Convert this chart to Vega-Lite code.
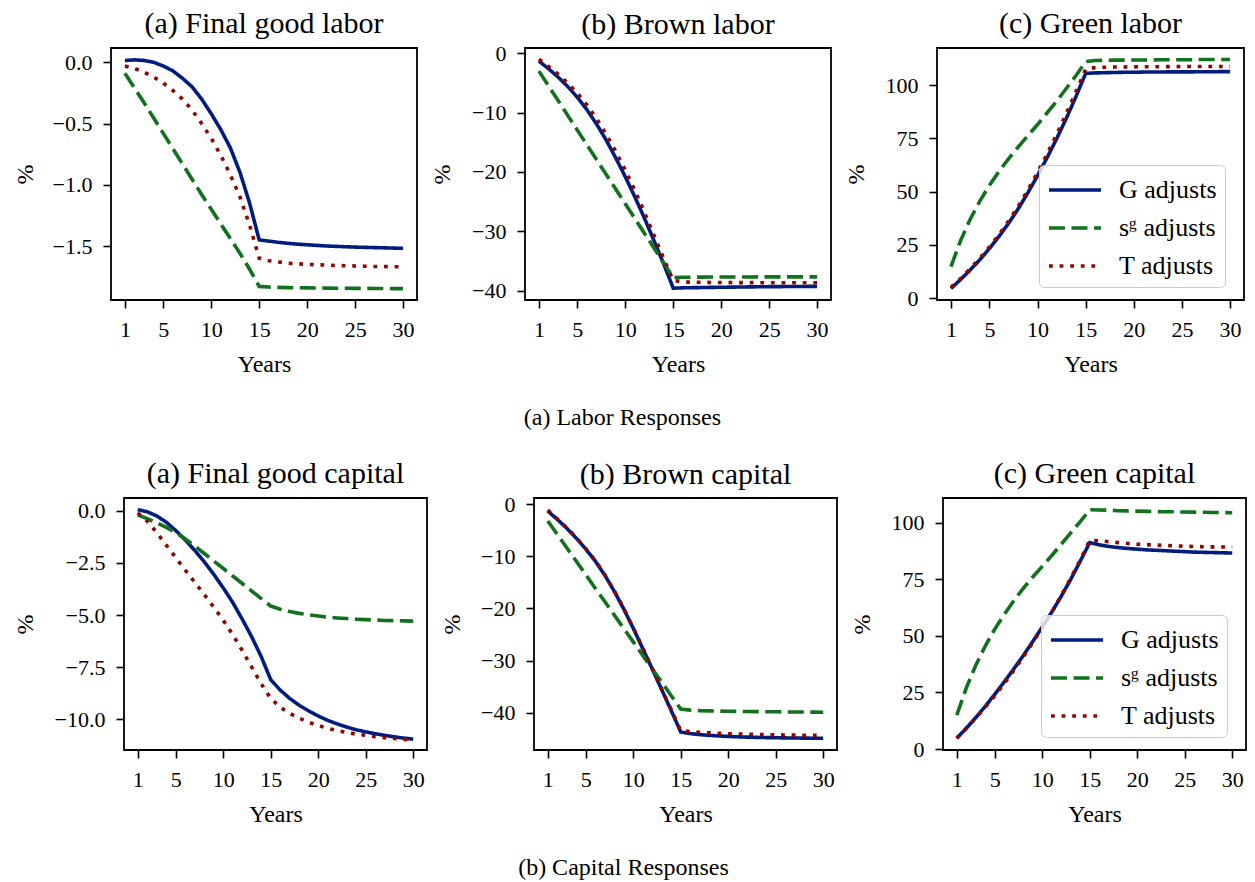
{
"$schema": "https://vega.github.io/schema/vega-lite/v6.json",
"background": "white",
"padding": {"left": 0, "top": 8, "right": 0, "bottom": 0},
"datasets": {
"p1": [
{"t":1,"s":"G adjusts","v":0.015},{"t":2,"s":"G adjusts","v":0.02},{"t":3,"s":"G adjusts","v":0.015},{"t":4,"s":"G adjusts","v":0.0},{"t":5,"s":"G adjusts","v":-0.03},{"t":6,"s":"G adjusts","v":-0.07},{"t":7,"s":"G adjusts","v":-0.13},{"t":8,"s":"G adjusts","v":-0.2},{"t":9,"s":"G adjusts","v":-0.3},{"t":10,"s":"G adjusts","v":-0.42},{"t":11,"s":"G adjusts","v":-0.55},{"t":12,"s":"G adjusts","v":-0.7},{"t":13,"s":"G adjusts","v":-0.9},{"t":14,"s":"G adjusts","v":-1.15},{"t":15,"s":"G adjusts","v":-1.45},{"t":16,"s":"G adjusts","v":-1.46},{"t":17,"s":"G adjusts","v":-1.47},{"t":18,"s":"G adjusts","v":-1.478},{"t":19,"s":"G adjusts","v":-1.485},{"t":20,"s":"G adjusts","v":-1.49},{"t":21,"s":"G adjusts","v":-1.495},{"t":22,"s":"G adjusts","v":-1.5},{"t":23,"s":"G adjusts","v":-1.503},{"t":24,"s":"G adjusts","v":-1.506},{"t":25,"s":"G adjusts","v":-1.509},{"t":26,"s":"G adjusts","v":-1.511},{"t":27,"s":"G adjusts","v":-1.513},{"t":28,"s":"G adjusts","v":-1.515},{"t":29,"s":"G adjusts","v":-1.517},{"t":30,"s":"G adjusts","v":-1.519},
{"t":1,"s":"sᵍ adjusts","v":-0.09},{"t":2,"s":"sᵍ adjusts","v":-0.21},{"t":3,"s":"sᵍ adjusts","v":-0.33},{"t":4,"s":"sᵍ adjusts","v":-0.455},{"t":5,"s":"sᵍ adjusts","v":-0.58},{"t":6,"s":"sᵍ adjusts","v":-0.705},{"t":7,"s":"sᵍ adjusts","v":-0.83},{"t":8,"s":"sᵍ adjusts","v":-0.955},{"t":9,"s":"sᵍ adjusts","v":-1.08},{"t":10,"s":"sᵍ adjusts","v":-1.2},{"t":11,"s":"sᵍ adjusts","v":-1.32},{"t":12,"s":"sᵍ adjusts","v":-1.44},{"t":13,"s":"sᵍ adjusts","v":-1.56},{"t":14,"s":"sᵍ adjusts","v":-1.69},{"t":15,"s":"sᵍ adjusts","v":-1.83},{"t":16,"s":"sᵍ adjusts","v":-1.835},{"t":17,"s":"sᵍ adjusts","v":-1.838},{"t":18,"s":"sᵍ adjusts","v":-1.84},{"t":19,"s":"sᵍ adjusts","v":-1.841},{"t":20,"s":"sᵍ adjusts","v":-1.842},{"t":21,"s":"sᵍ adjusts","v":-1.843},{"t":22,"s":"sᵍ adjusts","v":-1.844},{"t":23,"s":"sᵍ adjusts","v":-1.845},{"t":24,"s":"sᵍ adjusts","v":-1.845},{"t":25,"s":"sᵍ adjusts","v":-1.846},{"t":26,"s":"sᵍ adjusts","v":-1.846},{"t":27,"s":"sᵍ adjusts","v":-1.847},{"t":28,"s":"sᵍ adjusts","v":-1.847},{"t":29,"s":"sᵍ adjusts","v":-1.848},{"t":30,"s":"sᵍ adjusts","v":-1.848},
{"t":1,"s":"T adjusts","v":-0.03},{"t":2,"s":"T adjusts","v":-0.05},{"t":3,"s":"T adjusts","v":-0.08},{"t":4,"s":"T adjusts","v":-0.12},{"t":5,"s":"T adjusts","v":-0.17},{"t":6,"s":"T adjusts","v":-0.23},{"t":7,"s":"T adjusts","v":-0.3},{"t":8,"s":"T adjusts","v":-0.39},{"t":9,"s":"T adjusts","v":-0.5},{"t":10,"s":"T adjusts","v":-0.62},{"t":11,"s":"T adjusts","v":-0.76},{"t":12,"s":"T adjusts","v":-0.92},{"t":13,"s":"T adjusts","v":-1.1},{"t":14,"s":"T adjusts","v":-1.33},{"t":15,"s":"T adjusts","v":-1.6},{"t":16,"s":"T adjusts","v":-1.62},{"t":17,"s":"T adjusts","v":-1.63},{"t":18,"s":"T adjusts","v":-1.64},{"t":19,"s":"T adjusts","v":-1.645},{"t":20,"s":"T adjusts","v":-1.65},{"t":21,"s":"T adjusts","v":-1.653},{"t":22,"s":"T adjusts","v":-1.656},{"t":23,"s":"T adjusts","v":-1.659},{"t":24,"s":"T adjusts","v":-1.661},{"t":25,"s":"T adjusts","v":-1.663},{"t":26,"s":"T adjusts","v":-1.665},{"t":27,"s":"T adjusts","v":-1.667},{"t":28,"s":"T adjusts","v":-1.668},{"t":29,"s":"T adjusts","v":-1.669},{"t":30,"s":"T adjusts","v":-1.67}
],
"p2": [
{"t":1,"s":"G adjusts","v":-1.3},{"t":2,"s":"G adjusts","v":-2.6},{"t":3,"s":"G adjusts","v":-4.0},{"t":4,"s":"G adjusts","v":-5.6},{"t":5,"s":"G adjusts","v":-7.4},{"t":6,"s":"G adjusts","v":-9.5},{"t":7,"s":"G adjusts","v":-11.9},{"t":8,"s":"G adjusts","v":-14.6},{"t":9,"s":"G adjusts","v":-17.6},{"t":10,"s":"G adjusts","v":-20.8},{"t":11,"s":"G adjusts","v":-24.2},{"t":12,"s":"G adjusts","v":-27.8},{"t":13,"s":"G adjusts","v":-31.6},{"t":14,"s":"G adjusts","v":-35.5},{"t":15,"s":"G adjusts","v":-39.6},{"t":16,"s":"G adjusts","v":-39.55},{"t":17,"s":"G adjusts","v":-39.52},{"t":18,"s":"G adjusts","v":-39.5},{"t":19,"s":"G adjusts","v":-39.47},{"t":20,"s":"G adjusts","v":-39.45},{"t":21,"s":"G adjusts","v":-39.43},{"t":22,"s":"G adjusts","v":-39.41},{"t":23,"s":"G adjusts","v":-39.39},{"t":24,"s":"G adjusts","v":-39.37},{"t":25,"s":"G adjusts","v":-39.35},{"t":26,"s":"G adjusts","v":-39.34},{"t":27,"s":"G adjusts","v":-39.33},{"t":28,"s":"G adjusts","v":-39.32},{"t":29,"s":"G adjusts","v":-39.31},{"t":30,"s":"G adjusts","v":-39.3},
{"t":1,"s":"sᵍ adjusts","v":-3.0},{"t":2,"s":"sᵍ adjusts","v":-5.49},{"t":3,"s":"sᵍ adjusts","v":-7.97},{"t":4,"s":"sᵍ adjusts","v":-10.46},{"t":5,"s":"sᵍ adjusts","v":-12.94},{"t":6,"s":"sᵍ adjusts","v":-15.43},{"t":7,"s":"sᵍ adjusts","v":-17.92},{"t":8,"s":"sᵍ adjusts","v":-20.4},{"t":9,"s":"sᵍ adjusts","v":-22.89},{"t":10,"s":"sᵍ adjusts","v":-25.37},{"t":11,"s":"sᵍ adjusts","v":-27.86},{"t":12,"s":"sᵍ adjusts","v":-30.35},{"t":13,"s":"sᵍ adjusts","v":-32.83},{"t":14,"s":"sᵍ adjusts","v":-35.32},{"t":15,"s":"sᵍ adjusts","v":-37.8},{"t":16,"s":"sᵍ adjusts","v":-37.77},{"t":17,"s":"sᵍ adjusts","v":-37.75},{"t":18,"s":"sᵍ adjusts","v":-37.74},{"t":19,"s":"sᵍ adjusts","v":-37.73},{"t":20,"s":"sᵍ adjusts","v":-37.72},{"t":21,"s":"sᵍ adjusts","v":-37.72},{"t":22,"s":"sᵍ adjusts","v":-37.71},{"t":23,"s":"sᵍ adjusts","v":-37.71},{"t":24,"s":"sᵍ adjusts","v":-37.7},{"t":25,"s":"sᵍ adjusts","v":-37.7},{"t":26,"s":"sᵍ adjusts","v":-37.7},{"t":27,"s":"sᵍ adjusts","v":-37.7},{"t":28,"s":"sᵍ adjusts","v":-37.7},{"t":29,"s":"sᵍ adjusts","v":-37.7},{"t":30,"s":"sᵍ adjusts","v":-37.7},
{"t":1,"s":"T adjusts","v":-1.0},{"t":2,"s":"T adjusts","v":-2.2},{"t":3,"s":"T adjusts","v":-3.5},{"t":4,"s":"T adjusts","v":-5.0},{"t":5,"s":"T adjusts","v":-6.7},{"t":6,"s":"T adjusts","v":-8.7},{"t":7,"s":"T adjusts","v":-11.0},{"t":8,"s":"T adjusts","v":-13.6},{"t":9,"s":"T adjusts","v":-16.5},{"t":10,"s":"T adjusts","v":-19.7},{"t":11,"s":"T adjusts","v":-23.1},{"t":12,"s":"T adjusts","v":-26.8},{"t":13,"s":"T adjusts","v":-30.7},{"t":14,"s":"T adjusts","v":-34.6},{"t":15,"s":"T adjusts","v":-38.3},{"t":16,"s":"T adjusts","v":-38.55},{"t":17,"s":"T adjusts","v":-38.6},{"t":18,"s":"T adjusts","v":-38.62},{"t":19,"s":"T adjusts","v":-38.64},{"t":20,"s":"T adjusts","v":-38.65},{"t":21,"s":"T adjusts","v":-38.66},{"t":22,"s":"T adjusts","v":-38.67},{"t":23,"s":"T adjusts","v":-38.67},{"t":24,"s":"T adjusts","v":-38.68},{"t":25,"s":"T adjusts","v":-38.68},{"t":26,"s":"T adjusts","v":-38.69},{"t":27,"s":"T adjusts","v":-38.69},{"t":28,"s":"T adjusts","v":-38.7},{"t":29,"s":"T adjusts","v":-38.7},{"t":30,"s":"T adjusts","v":-38.7}
],
"p3": [
{"t":1,"s":"G adjusts","v":4.5},{"t":2,"s":"G adjusts","v":8.7},{"t":3,"s":"G adjusts","v":13.2},{"t":4,"s":"G adjusts","v":18.0},{"t":5,"s":"G adjusts","v":23.3},{"t":6,"s":"G adjusts","v":29.0},{"t":7,"s":"G adjusts","v":35.2},{"t":8,"s":"G adjusts","v":42.0},{"t":9,"s":"G adjusts","v":49.5},{"t":10,"s":"G adjusts","v":57.5},{"t":11,"s":"G adjusts","v":66.0},{"t":12,"s":"G adjusts","v":75.0},{"t":13,"s":"G adjusts","v":84.5},{"t":14,"s":"G adjusts","v":94.7},{"t":15,"s":"G adjusts","v":105.5},{"t":16,"s":"G adjusts","v":105.7},{"t":17,"s":"G adjusts","v":105.8},{"t":18,"s":"G adjusts","v":105.9},{"t":19,"s":"G adjusts","v":106.0},{"t":20,"s":"G adjusts","v":106.0},{"t":21,"s":"G adjusts","v":106.1},{"t":22,"s":"G adjusts","v":106.1},{"t":23,"s":"G adjusts","v":106.15},{"t":24,"s":"G adjusts","v":106.2},{"t":25,"s":"G adjusts","v":106.2},{"t":26,"s":"G adjusts","v":106.2},{"t":27,"s":"G adjusts","v":106.25},{"t":28,"s":"G adjusts","v":106.25},{"t":29,"s":"G adjusts","v":106.3},{"t":30,"s":"G adjusts","v":106.3},
{"t":1,"s":"sᵍ adjusts","v":14.8},{"t":2,"s":"sᵍ adjusts","v":27.0},{"t":3,"s":"sᵍ adjusts","v":37.0},{"t":4,"s":"sᵍ adjusts","v":45.5},{"t":5,"s":"sᵍ adjusts","v":53.0},{"t":6,"s":"sᵍ adjusts","v":59.5},{"t":7,"s":"sᵍ adjusts","v":65.5},{"t":8,"s":"sᵍ adjusts","v":71.0},{"t":9,"s":"sᵍ adjusts","v":76.3},{"t":10,"s":"sᵍ adjusts","v":81.5},{"t":11,"s":"sᵍ adjusts","v":87.0},{"t":12,"s":"sᵍ adjusts","v":92.5},{"t":13,"s":"sᵍ adjusts","v":98.5},{"t":14,"s":"sᵍ adjusts","v":104.5},{"t":15,"s":"sᵍ adjusts","v":111.0},{"t":16,"s":"sᵍ adjusts","v":111.5},{"t":17,"s":"sᵍ adjusts","v":111.6},{"t":18,"s":"sᵍ adjusts","v":111.7},{"t":19,"s":"sᵍ adjusts","v":111.7},{"t":20,"s":"sᵍ adjusts","v":111.8},{"t":21,"s":"sᵍ adjusts","v":111.8},{"t":22,"s":"sᵍ adjusts","v":111.8},{"t":23,"s":"sᵍ adjusts","v":111.9},{"t":24,"s":"sᵍ adjusts","v":111.9},{"t":25,"s":"sᵍ adjusts","v":111.9},{"t":26,"s":"sᵍ adjusts","v":111.9},{"t":27,"s":"sᵍ adjusts","v":112.0},{"t":28,"s":"sᵍ adjusts","v":112.0},{"t":29,"s":"sᵍ adjusts","v":112.0},{"t":30,"s":"sᵍ adjusts","v":112.0},
{"t":1,"s":"T adjusts","v":5.0},{"t":2,"s":"T adjusts","v":9.2},{"t":3,"s":"T adjusts","v":13.8},{"t":4,"s":"T adjusts","v":18.7},{"t":5,"s":"T adjusts","v":24.0},{"t":6,"s":"T adjusts","v":29.8},{"t":7,"s":"T adjusts","v":36.2},{"t":8,"s":"T adjusts","v":43.2},{"t":9,"s":"T adjusts","v":50.8},{"t":10,"s":"T adjusts","v":59.0},{"t":11,"s":"T adjusts","v":67.7},{"t":12,"s":"T adjusts","v":77.0},{"t":13,"s":"T adjusts","v":86.8},{"t":14,"s":"T adjusts","v":97.0},{"t":15,"s":"T adjusts","v":107.5},{"t":16,"s":"T adjusts","v":108.2},{"t":17,"s":"T adjusts","v":108.35},{"t":18,"s":"T adjusts","v":108.45},{"t":19,"s":"T adjusts","v":108.5},{"t":20,"s":"T adjusts","v":108.55},{"t":21,"s":"T adjusts","v":108.6},{"t":22,"s":"T adjusts","v":108.6},{"t":23,"s":"T adjusts","v":108.65},{"t":24,"s":"T adjusts","v":108.65},{"t":25,"s":"T adjusts","v":108.7},{"t":26,"s":"T adjusts","v":108.7},{"t":27,"s":"T adjusts","v":108.7},{"t":28,"s":"T adjusts","v":108.7},{"t":29,"s":"T adjusts","v":108.7},{"t":30,"s":"T adjusts","v":108.7}
],
"p4": [
{"t":1,"s":"G adjusts","v":0.05},{"t":2,"s":"G adjusts","v":-0.05},{"t":3,"s":"G adjusts","v":-0.25},{"t":4,"s":"G adjusts","v":-0.55},{"t":5,"s":"G adjusts","v":-0.95},{"t":6,"s":"G adjusts","v":-1.4},{"t":7,"s":"G adjusts","v":-1.9},{"t":8,"s":"G adjusts","v":-2.45},{"t":9,"s":"G adjusts","v":-3.05},{"t":10,"s":"G adjusts","v":-3.7},{"t":11,"s":"G adjusts","v":-4.4},{"t":12,"s":"G adjusts","v":-5.2},{"t":13,"s":"G adjusts","v":-6.05},{"t":14,"s":"G adjusts","v":-7.0},{"t":15,"s":"G adjusts","v":-8.1},{"t":16,"s":"G adjusts","v":-8.6},{"t":17,"s":"G adjusts","v":-9.0},{"t":18,"s":"G adjusts","v":-9.33},{"t":19,"s":"G adjusts","v":-9.6},{"t":20,"s":"G adjusts","v":-9.84},{"t":21,"s":"G adjusts","v":-10.05},{"t":22,"s":"G adjusts","v":-10.22},{"t":23,"s":"G adjusts","v":-10.37},{"t":24,"s":"G adjusts","v":-10.5},{"t":25,"s":"G adjusts","v":-10.6},{"t":26,"s":"G adjusts","v":-10.69},{"t":27,"s":"G adjusts","v":-10.77},{"t":28,"s":"G adjusts","v":-10.84},{"t":29,"s":"G adjusts","v":-10.9},{"t":30,"s":"G adjusts","v":-10.95},
{"t":1,"s":"sᵍ adjusts","v":-0.2},{"t":2,"s":"sᵍ adjusts","v":-0.38},{"t":3,"s":"sᵍ adjusts","v":-0.58},{"t":4,"s":"sᵍ adjusts","v":-0.8},{"t":5,"s":"sᵍ adjusts","v":-1.05},{"t":6,"s":"sᵍ adjusts","v":-1.35},{"t":7,"s":"sᵍ adjusts","v":-1.69},{"t":8,"s":"sᵍ adjusts","v":-2.05},{"t":9,"s":"sᵍ adjusts","v":-2.41},{"t":10,"s":"sᵍ adjusts","v":-2.77},{"t":11,"s":"sᵍ adjusts","v":-3.13},{"t":12,"s":"sᵍ adjusts","v":-3.49},{"t":13,"s":"sᵍ adjusts","v":-3.85},{"t":14,"s":"sᵍ adjusts","v":-4.21},{"t":15,"s":"sᵍ adjusts","v":-4.57},{"t":16,"s":"sᵍ adjusts","v":-4.72},{"t":17,"s":"sᵍ adjusts","v":-4.83},{"t":18,"s":"sᵍ adjusts","v":-4.92},{"t":19,"s":"sᵍ adjusts","v":-4.99},{"t":20,"s":"sᵍ adjusts","v":-5.05},{"t":21,"s":"sᵍ adjusts","v":-5.1},{"t":22,"s":"sᵍ adjusts","v":-5.14},{"t":23,"s":"sᵍ adjusts","v":-5.17},{"t":24,"s":"sᵍ adjusts","v":-5.2},{"t":25,"s":"sᵍ adjusts","v":-5.22},{"t":26,"s":"sᵍ adjusts","v":-5.24},{"t":27,"s":"sᵍ adjusts","v":-5.26},{"t":28,"s":"sᵍ adjusts","v":-5.27},{"t":29,"s":"sᵍ adjusts","v":-5.28},{"t":30,"s":"sᵍ adjusts","v":-5.29},
{"t":1,"s":"T adjusts","v":-0.1},{"t":2,"s":"T adjusts","v":-0.5},{"t":3,"s":"T adjusts","v":-1.05},{"t":4,"s":"T adjusts","v":-1.65},{"t":5,"s":"T adjusts","v":-2.25},{"t":6,"s":"T adjusts","v":-2.85},{"t":7,"s":"T adjusts","v":-3.43},{"t":8,"s":"T adjusts","v":-4.02},{"t":9,"s":"T adjusts","v":-4.62},{"t":10,"s":"T adjusts","v":-5.25},{"t":11,"s":"T adjusts","v":-5.95},{"t":12,"s":"T adjusts","v":-6.7},{"t":13,"s":"T adjusts","v":-7.5},{"t":14,"s":"T adjusts","v":-8.3},{"t":15,"s":"T adjusts","v":-9.0},{"t":16,"s":"T adjusts","v":-9.42},{"t":17,"s":"T adjusts","v":-9.72},{"t":18,"s":"T adjusts","v":-9.95},{"t":19,"s":"T adjusts","v":-10.14},{"t":20,"s":"T adjusts","v":-10.3},{"t":21,"s":"T adjusts","v":-10.43},{"t":22,"s":"T adjusts","v":-10.54},{"t":23,"s":"T adjusts","v":-10.63},{"t":24,"s":"T adjusts","v":-10.71},{"t":25,"s":"T adjusts","v":-10.77},{"t":26,"s":"T adjusts","v":-10.83},{"t":27,"s":"T adjusts","v":-10.88},{"t":28,"s":"T adjusts","v":-10.92},{"t":29,"s":"T adjusts","v":-10.96},{"t":30,"s":"T adjusts","v":-10.99}
],
"p5": [
{"t":1,"s":"G adjusts","v":-1.3},{"t":2,"s":"G adjusts","v":-2.9},{"t":3,"s":"G adjusts","v":-4.6},{"t":4,"s":"G adjusts","v":-6.5},{"t":5,"s":"G adjusts","v":-8.6},{"t":6,"s":"G adjusts","v":-10.9},{"t":7,"s":"G adjusts","v":-13.6},{"t":8,"s":"G adjusts","v":-16.7},{"t":9,"s":"G adjusts","v":-20.1},{"t":10,"s":"G adjusts","v":-23.8},{"t":11,"s":"G adjusts","v":-27.7},{"t":12,"s":"G adjusts","v":-31.6},{"t":13,"s":"G adjusts","v":-35.6},{"t":14,"s":"G adjusts","v":-39.6},{"t":15,"s":"G adjusts","v":-43.7},{"t":16,"s":"G adjusts","v":-44.0},{"t":17,"s":"G adjusts","v":-44.2},{"t":18,"s":"G adjusts","v":-44.35},{"t":19,"s":"G adjusts","v":-44.45},{"t":20,"s":"G adjusts","v":-44.55},{"t":21,"s":"G adjusts","v":-44.62},{"t":22,"s":"G adjusts","v":-44.68},{"t":23,"s":"G adjusts","v":-44.73},{"t":24,"s":"G adjusts","v":-44.77},{"t":25,"s":"G adjusts","v":-44.8},{"t":26,"s":"G adjusts","v":-44.83},{"t":27,"s":"G adjusts","v":-44.85},{"t":28,"s":"G adjusts","v":-44.87},{"t":29,"s":"G adjusts","v":-44.89},{"t":30,"s":"G adjusts","v":-44.9},
{"t":1,"s":"sᵍ adjusts","v":-3.2},{"t":2,"s":"sᵍ adjusts","v":-5.78},{"t":3,"s":"sᵍ adjusts","v":-8.36},{"t":4,"s":"sᵍ adjusts","v":-10.94},{"t":5,"s":"sᵍ adjusts","v":-13.52},{"t":6,"s":"sᵍ adjusts","v":-16.1},{"t":7,"s":"sᵍ adjusts","v":-18.67},{"t":8,"s":"sᵍ adjusts","v":-21.25},{"t":9,"s":"sᵍ adjusts","v":-23.83},{"t":10,"s":"sᵍ adjusts","v":-26.41},{"t":11,"s":"sᵍ adjusts","v":-28.99},{"t":12,"s":"sᵍ adjusts","v":-31.57},{"t":13,"s":"sᵍ adjusts","v":-34.15},{"t":14,"s":"sᵍ adjusts","v":-36.73},{"t":15,"s":"sᵍ adjusts","v":-39.3},{"t":16,"s":"sᵍ adjusts","v":-39.5},{"t":17,"s":"sᵍ adjusts","v":-39.6},{"t":18,"s":"sᵍ adjusts","v":-39.65},{"t":19,"s":"sᵍ adjusts","v":-39.69},{"t":20,"s":"sᵍ adjusts","v":-39.72},{"t":21,"s":"sᵍ adjusts","v":-39.74},{"t":22,"s":"sᵍ adjusts","v":-39.76},{"t":23,"s":"sᵍ adjusts","v":-39.78},{"t":24,"s":"sᵍ adjusts","v":-39.8},{"t":25,"s":"sᵍ adjusts","v":-39.82},{"t":26,"s":"sᵍ adjusts","v":-39.84},{"t":27,"s":"sᵍ adjusts","v":-39.86},{"t":28,"s":"sᵍ adjusts","v":-39.87},{"t":29,"s":"sᵍ adjusts","v":-39.89},{"t":30,"s":"sᵍ adjusts","v":-39.9},
{"t":1,"s":"T adjusts","v":-1.1},{"t":2,"s":"T adjusts","v":-2.8},{"t":3,"s":"T adjusts","v":-4.5},{"t":4,"s":"T adjusts","v":-6.4},{"t":5,"s":"T adjusts","v":-8.5},{"t":6,"s":"T adjusts","v":-10.8},{"t":7,"s":"T adjusts","v":-13.5},{"t":8,"s":"T adjusts","v":-16.6},{"t":9,"s":"T adjusts","v":-20.0},{"t":10,"s":"T adjusts","v":-23.7},{"t":11,"s":"T adjusts","v":-27.6},{"t":12,"s":"T adjusts","v":-31.5},{"t":13,"s":"T adjusts","v":-35.5},{"t":14,"s":"T adjusts","v":-39.4},{"t":15,"s":"T adjusts","v":-43.4},{"t":16,"s":"T adjusts","v":-43.6},{"t":17,"s":"T adjusts","v":-43.75},{"t":18,"s":"T adjusts","v":-43.85},{"t":19,"s":"T adjusts","v":-43.95},{"t":20,"s":"T adjusts","v":-44.02},{"t":21,"s":"T adjusts","v":-44.08},{"t":22,"s":"T adjusts","v":-44.13},{"t":23,"s":"T adjusts","v":-44.17},{"t":24,"s":"T adjusts","v":-44.21},{"t":25,"s":"T adjusts","v":-44.24},{"t":26,"s":"T adjusts","v":-44.27},{"t":27,"s":"T adjusts","v":-44.3},{"t":28,"s":"T adjusts","v":-44.32},{"t":29,"s":"T adjusts","v":-44.34},{"t":30,"s":"T adjusts","v":-44.35}
],
"p6": [
{"t":1,"s":"G adjusts","v":4.7},{"t":2,"s":"G adjusts","v":9.2},{"t":3,"s":"G adjusts","v":13.9},{"t":4,"s":"G adjusts","v":18.9},{"t":5,"s":"G adjusts","v":24.2},{"t":6,"s":"G adjusts","v":29.7},{"t":7,"s":"G adjusts","v":35.4},{"t":8,"s":"G adjusts","v":41.3},{"t":9,"s":"G adjusts","v":47.5},{"t":10,"s":"G adjusts","v":53.9},{"t":11,"s":"G adjusts","v":60.5},{"t":12,"s":"G adjusts","v":67.5},{"t":13,"s":"G adjusts","v":75.0},{"t":14,"s":"G adjusts","v":83.0},{"t":15,"s":"G adjusts","v":91.2},{"t":16,"s":"G adjusts","v":90.2},{"t":17,"s":"G adjusts","v":89.5},{"t":18,"s":"G adjusts","v":89.0},{"t":19,"s":"G adjusts","v":88.6},{"t":20,"s":"G adjusts","v":88.3},{"t":21,"s":"G adjusts","v":88.0},{"t":22,"s":"G adjusts","v":87.8},{"t":23,"s":"G adjusts","v":87.6},{"t":24,"s":"G adjusts","v":87.4},{"t":25,"s":"G adjusts","v":87.2},{"t":26,"s":"G adjusts","v":87.0},{"t":27,"s":"G adjusts","v":86.9},{"t":28,"s":"G adjusts","v":86.8},{"t":29,"s":"G adjusts","v":86.7},{"t":30,"s":"G adjusts","v":86.6},
{"t":1,"s":"sᵍ adjusts","v":15.0},{"t":2,"s":"sᵍ adjusts","v":27.0},{"t":3,"s":"sᵍ adjusts","v":37.0},{"t":4,"s":"sᵍ adjusts","v":45.5},{"t":5,"s":"sᵍ adjusts","v":53.0},{"t":6,"s":"sᵍ adjusts","v":59.5},{"t":7,"s":"sᵍ adjusts","v":65.5},{"t":8,"s":"sᵍ adjusts","v":71.0},{"t":9,"s":"sᵍ adjusts","v":76.0},{"t":10,"s":"sᵍ adjusts","v":80.7},{"t":11,"s":"sᵍ adjusts","v":85.5},{"t":12,"s":"sᵍ adjusts","v":90.5},{"t":13,"s":"sᵍ adjusts","v":95.5},{"t":14,"s":"sᵍ adjusts","v":100.5},{"t":15,"s":"sᵍ adjusts","v":105.7},{"t":16,"s":"sᵍ adjusts","v":105.6},{"t":17,"s":"sᵍ adjusts","v":105.5},{"t":18,"s":"sᵍ adjusts","v":105.3},{"t":19,"s":"sᵍ adjusts","v":105.2},{"t":20,"s":"sᵍ adjusts","v":105.1},{"t":21,"s":"sᵍ adjusts","v":105.0},{"t":22,"s":"sᵍ adjusts","v":104.9},{"t":23,"s":"sᵍ adjusts","v":104.85},{"t":24,"s":"sᵍ adjusts","v":104.8},{"t":25,"s":"sᵍ adjusts","v":104.7},{"t":26,"s":"sᵍ adjusts","v":104.65},{"t":27,"s":"sᵍ adjusts","v":104.6},{"t":28,"s":"sᵍ adjusts","v":104.5},{"t":29,"s":"sᵍ adjusts","v":104.45},{"t":30,"s":"sᵍ adjusts","v":104.4},
{"t":1,"s":"T adjusts","v":4.9},{"t":2,"s":"T adjusts","v":9.2},{"t":3,"s":"T adjusts","v":13.7},{"t":4,"s":"T adjusts","v":18.5},{"t":5,"s":"T adjusts","v":23.6},{"t":6,"s":"T adjusts","v":29.0},{"t":7,"s":"T adjusts","v":34.7},{"t":8,"s":"T adjusts","v":40.7},{"t":9,"s":"T adjusts","v":47.0},{"t":10,"s":"T adjusts","v":53.6},{"t":11,"s":"T adjusts","v":60.5},{"t":12,"s":"T adjusts","v":67.8},{"t":13,"s":"T adjusts","v":75.5},{"t":14,"s":"T adjusts","v":83.6},{"t":15,"s":"T adjusts","v":92.2},{"t":16,"s":"T adjusts","v":92.0},{"t":17,"s":"T adjusts","v":91.6},{"t":18,"s":"T adjusts","v":91.2},{"t":19,"s":"T adjusts","v":90.8},{"t":20,"s":"T adjusts","v":90.5},{"t":21,"s":"T adjusts","v":90.3},{"t":22,"s":"T adjusts","v":90.1},{"t":23,"s":"T adjusts","v":89.9},{"t":24,"s":"T adjusts","v":89.8},{"t":25,"s":"T adjusts","v":89.6},{"t":26,"s":"T adjusts","v":89.5},{"t":27,"s":"T adjusts","v":89.4},{"t":28,"s":"T adjusts","v":89.3},{"t":29,"s":"T adjusts","v":89.25},{"t":30,"s":"T adjusts","v":89.2}
],
"empty": []
},
"spacing": 28,
"resolve": {"scale": {"color": "independent", "strokeDash": "independent"}, "legend": {"color": "independent", "strokeDash": "independent"}},
"vconcat": [
{
"title": {"text": "(a) Labor Responses", "orient": "bottom", "anchor": "middle", "offset": 48, "baseline": "alphabetic", "fontSize": 24, "frame": "bounds"},
"spacing": 11,
"resolve": {"scale": {"color": "independent", "strokeDash": "independent"}, "legend": {"color": "independent", "strokeDash": "independent"}},
"hconcat": [
{
"width": 1, "height": 100,
"data": {"name": "empty"},
"mark": {"type": "point", "opacity": 0},
"view": {"stroke": null}
},
{
"width": 306, "height": 252,
"title": {"text": "(a) Final good labor", "offset": 9},
"data": {"name": "p1"},
"mark": {"type": "line", "strokeWidth": 3.6},
"encoding": {
"x": {"field": "t", "type": "quantitative", "scale": {"domain": [-0.45, 31.45], "nice": false, "zero": false}, "axis": {"values": [1,5,10,15,20,25,30], "title": "Years"}},
"y": {"field": "v", "type": "quantitative", "scale": {"domain": [-1.941, 0.117], "nice": false, "zero": false}, "axis": {"values": [0,-0.5,-1,-1.5], "format": ".1f", "title": "%", "minExtent": 74, "maxExtent": 74}},
"color": {"field": "s", "type": "nominal", "scale": {"domain": ["G adjusts","sᵍ adjusts","T adjusts"], "range": ["#001c7f","#12711c","#8c0800"]}, "legend": null},
"strokeDash": {"field": "s", "type": "nominal", "scale": {"domain": ["G adjusts","sᵍ adjusts","T adjusts"], "range": [[1,0],[16,6.5],[3.8,6.8]]}, "legend": null}
}
},
{
"width": 306, "height": 252,
"title": {"text": "(b) Brown labor", "offset": 2},
"data": {"name": "p2"},
"mark": {"type": "line", "strokeWidth": 3.6},
"encoding": {
"x": {"field": "t", "type": "quantitative", "scale": {"domain": [-0.45, 31.45], "nice": false, "zero": false}, "axis": {"values": [1,5,10,15,20,25,30], "title": "Years"}},
"y": {"field": "v", "type": "quantitative", "scale": {"domain": [-41.6, 0.9], "nice": false, "zero": false}, "axis": {"values": [0,-10,-20,-30,-40], "format": "d", "title": "%", "minExtent": 71, "maxExtent": 71}},
"color": {"field": "s", "type": "nominal", "scale": {"domain": ["G adjusts","sᵍ adjusts","T adjusts"], "range": ["#001c7f","#12711c","#8c0800"]}, "legend": null},
"strokeDash": {"field": "s", "type": "nominal", "scale": {"domain": ["G adjusts","sᵍ adjusts","T adjusts"], "range": [[1,0],[16,6.5],[3.8,6.8]]}, "legend": null}
}
},
{
"width": 307, "height": 252,
"title": {"text": "(c) Green labor", "offset": 9},
"data": {"name": "p3"},
"mark": {"type": "line", "strokeWidth": 3.6},
"encoding": {
"x": {"field": "t", "type": "quantitative", "scale": {"domain": [-0.45, 31.45], "nice": false, "zero": false}, "axis": {"values": [1,5,10,15,20,25,30], "title": "Years"}},
"y": {"field": "v", "type": "quantitative", "scale": {"domain": [-0.9, 117.4], "nice": false, "zero": false}, "axis": {"values": [0,25,50,75,100], "format": "d", "title": "%", "minExtent": 69, "maxExtent": 69}},
"color": {"field": "s", "type": "nominal", "scale": {"domain": ["G adjusts","sᵍ adjusts","T adjusts"], "range": ["#001c7f","#12711c","#8c0800"]}, "legend": {"orient": "none", "legendX": 102, "legendY": 117, "title": null, "symbolType": "M-1,0H2.47", "symbolSize": 900, "symbolStrokeWidth": 3.6, "labelFontSize": 26, "labelOffset": 38, "padding": 8, "rowPadding": 8, "strokeColor": "#cccccc", "fillColor": "rgba(255,255,255,0.8)", "cornerRadius": 5, "labelLimit": 300}},
"strokeDash": {"field": "s", "type": "nominal", "scale": {"domain": ["G adjusts","sᵍ adjusts","T adjusts"], "range": [[1,0],[16,6.5],[3.8,6.8]]}, "legend": {"orient": "none", "legendX": 102, "legendY": 117, "title": null, "symbolType": "M-1,0H2.47", "symbolSize": 900, "symbolStrokeWidth": 3.6, "labelFontSize": 26, "labelOffset": 38, "padding": 8, "rowPadding": 8, "strokeColor": "#cccccc", "fillColor": "rgba(255,255,255,0.8)", "cornerRadius": 5, "labelLimit": 300}}
}
}
]
},
{
"title": {"text": "(b) Capital Responses", "orient": "bottom", "anchor": "middle", "offset": 48, "baseline": "alphabetic", "fontSize": 24, "frame": "bounds"},
"spacing": 11,
"resolve": {"scale": {"color": "independent", "strokeDash": "independent"}, "legend": {"color": "independent", "strokeDash": "independent"}},
"hconcat": [
{
"width": 1, "height": 100,
"data": {"name": "empty"},
"mark": {"type": "point", "opacity": 0},
"view": {"stroke": null}
},
{
"width": 303, "height": 252,
"title": {"text": "(a) Final good capital", "offset": 9},
"data": {"name": "p4"},
"mark": {"type": "line", "strokeWidth": 3.6},
"encoding": {
"x": {"field": "t", "type": "quantitative", "scale": {"domain": [-0.45, 31.45], "nice": false, "zero": false}, "axis": {"values": [1,5,10,15,20,25,30], "title": "Years"}},
"y": {"field": "v", "type": "quantitative", "scale": {"domain": [-11.47, 0.61], "nice": false, "zero": false}, "axis": {"values": [0,-2.5,-5,-7.5,-10], "format": ".1f", "title": "%", "minExtent": 87, "maxExtent": 87}},
"color": {"field": "s", "type": "nominal", "scale": {"domain": ["G adjusts","sᵍ adjusts","T adjusts"], "range": ["#001c7f","#12711c","#8c0800"]}, "legend": null},
"strokeDash": {"field": "s", "type": "nominal", "scale": {"domain": ["G adjusts","sᵍ adjusts","T adjusts"], "range": [[1,0],[16,6.5],[3.8,6.8]]}, "legend": null}
}
},
{
"width": 303, "height": 252,
"title": {"text": "(b) Brown capital", "offset": 3.5},
"data": {"name": "p5"},
"mark": {"type": "line", "strokeWidth": 3.6},
"encoding": {
"x": {"field": "t", "type": "quantitative", "scale": {"domain": [-0.45, 31.45], "nice": false, "zero": false}, "axis": {"values": [1,5,10,15,20,25,30], "title": "Years"}},
"y": {"field": "v", "type": "quantitative", "scale": {"domain": [-47.15, 1.2], "nice": false, "zero": false}, "axis": {"values": [0,-10,-20,-30,-40], "format": "d", "title": "%", "minExtent": 70, "maxExtent": 70}},
"color": {"field": "s", "type": "nominal", "scale": {"domain": ["G adjusts","sᵍ adjusts","T adjusts"], "range": ["#001c7f","#12711c","#8c0800"]}, "legend": null},
"strokeDash": {"field": "s", "type": "nominal", "scale": {"domain": ["G adjusts","sᵍ adjusts","T adjusts"], "range": [[1,0],[16,6.5],[3.8,6.8]]}, "legend": null}
}
},
{
"width": 303, "height": 252,
"title": {"text": "(c) Green capital", "offset": 9},
"data": {"name": "p6"},
"mark": {"type": "line", "strokeWidth": 3.6},
"encoding": {
"x": {"field": "t", "type": "quantitative", "scale": {"domain": [-0.45, 31.45], "nice": false, "zero": false}, "axis": {"values": [1,5,10,15,20,25,30], "title": "Years"}},
"y": {"field": "v", "type": "quantitative", "scale": {"domain": [-0.4, 110.9], "nice": false, "zero": false}, "axis": {"values": [0,25,50,75,100], "format": "d", "title": "%", "minExtent": 69, "maxExtent": 69}},
"color": {"field": "s", "type": "nominal", "scale": {"domain": ["G adjusts","sᵍ adjusts","T adjusts"], "range": ["#001c7f","#12711c","#8c0800"]}, "legend": {"orient": "none", "legendX": 98, "legendY": 117, "title": null, "symbolType": "M-1,0H2.47", "symbolSize": 900, "symbolStrokeWidth": 3.6, "labelFontSize": 26, "labelOffset": 38, "padding": 8, "rowPadding": 8, "strokeColor": "#cccccc", "fillColor": "rgba(255,255,255,0.8)", "cornerRadius": 5, "labelLimit": 300}},
"strokeDash": {"field": "s", "type": "nominal", "scale": {"domain": ["G adjusts","sᵍ adjusts","T adjusts"], "range": [[1,0],[16,6.5],[3.8,6.8]]}, "legend": {"orient": "none", "legendX": 98, "legendY": 117, "title": null, "symbolType": "M-1,0H2.47", "symbolSize": 900, "symbolStrokeWidth": 3.6, "labelFontSize": 26, "labelOffset": 38, "padding": 8, "rowPadding": 8, "strokeColor": "#cccccc", "fillColor": "rgba(255,255,255,0.8)", "cornerRadius": 5, "labelLimit": 300}}
}
}
]
}
],
"config": {
"font": "Liberation Serif",
"view": {"stroke": "black", "strokeWidth": 1.8},
"title": {"font": "Liberation Serif", "fontSize": 30, "fontWeight": "normal", "color": "black", "anchor": "middle"},
"axis": {"domain": false, "grid": false, "tickColor": "black", "tickSize": 8, "tickWidth": 1.6, "labelFont": "Liberation Serif", "labelFontSize": 22, "labelColor": "black", "labelPadding": 11, "labelFlush": false, "labelOverlap": false, "titleFont": "Liberation Serif", "titleFontSize": 24, "titleFontWeight": "normal", "titleColor": "black"},
"axisX": {"titlePadding": 12},
"axisY": {"titlePadding": 0},
"legend": {"labelFont": "Liberation Serif", "labelColor": "black"}
}
}
